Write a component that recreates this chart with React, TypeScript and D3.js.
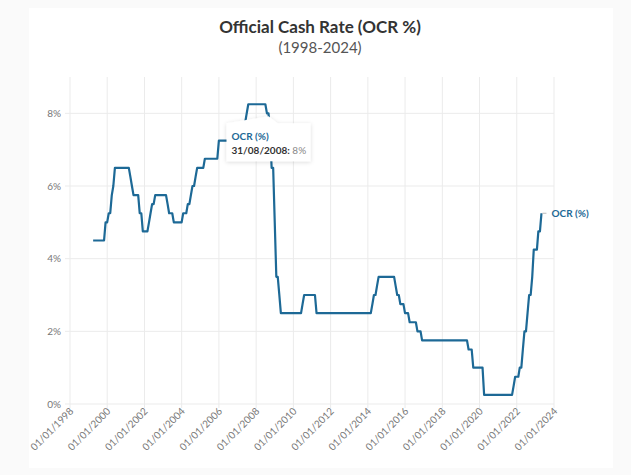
import React from "react";
import * as d3 from "d3";

// Month-end points where the OCR series turns a corner (monthly sampling)
const months: string[] = [
  "1999-03","1999-10","1999-11","1999-12","2000-01","2000-02","2000-03","2000-04","2000-05",
  "2001-02","2001-03","2001-04","2001-05","2001-08","2001-09","2001-10","2001-11",
  "2002-02","2002-03","2002-04","2002-05","2002-06","2002-07",
  "2003-02","2003-03","2003-04","2003-06","2003-07","2003-12",
  "2004-01","2004-03","2004-04","2004-05","2004-06","2004-07","2004-08","2004-09","2004-10",
  "2005-02","2005-03","2005-11","2005-12",
  "2007-02","2007-03","2007-04","2007-05","2007-06","2007-07",
  "2008-06","2008-07","2008-08","2008-09","2008-10","2008-11","2008-12",
  "2009-01","2009-02","2009-03","2009-04",
  "2010-05","2010-06","2010-07","2011-02","2011-03",
  "2014-02","2014-03","2014-04","2014-05","2014-06","2014-07",
  "2015-05","2015-06","2015-07","2015-08","2015-09","2015-11","2015-12",
  "2016-02","2016-03","2016-07","2016-08","2016-10","2016-11",
  "2019-04","2019-05","2019-07","2019-08","2020-02","2020-03",
  "2021-09","2021-10","2021-11","2022-01","2022-02","2022-03","2022-04","2022-05","2022-06",
  "2022-07","2022-08","2022-09","2022-10","2022-11","2023-01","2023-02","2023-03","2023-04"
];
const ocr: number[] = [
  4.5,4.5,5.0,5.0,5.25,5.25,5.75,6.0,6.5,
  6.5,6.25,6.0,5.75,5.75,5.25,5.25,4.75,
  4.75,5.0,5.25,5.5,5.5,5.75,
  5.75,5.5,5.25,5.25,5.0,5.0,
  5.25,5.25,5.5,5.5,5.75,6.0,6.0,6.25,6.5,
  6.5,6.75,6.75,7.25,
  7.25,7.5,7.75,7.75,8.0,8.25,
  8.25,8.0,8.0,7.5,6.5,6.5,5.0,
  3.5,3.5,3.0,2.5,
  2.5,2.75,3.0,3.0,2.5,
  2.5,2.75,3.0,3.0,3.25,3.5,
  3.5,3.25,3.0,3.0,2.75,2.75,2.5,
  2.5,2.25,2.25,2.0,2.0,1.75,
  1.75,1.5,1.5,1.0,1.0,0.25,
  0.25,0.5,0.75,0.75,1.0,1.0,1.5,2.0,2.0,
  2.5,3.0,3.0,3.5,4.25,4.25,4.75,4.75,5.25
];
const yTicks: number[] = [0, 2, 4, 6, 8];
const xTickYears: number[] = [1998, 2000, 2002, 2004, 2006, 2008, 2010, 2012, 2014, 2016, 2018, 2020, 2022, 2024];
const seriesName = "OCR (%)";
const title = "Official Cash Rate (OCR %)";
const subtitle = "(1998-2024)";
const tooltipMonth = "2008-08";

const W = 631, H = 475;
const FONT = "Lato, 'Noto Sans', sans-serif";
const BLUE = "#1d6996";

function monthEnd(s: string): Date {
  const [y, m] = s.split("-").map(Number);
  return new Date(y, m, 0);
}

export default function App() {
  const data = months.map((m, i) => ({ date: monthEnd(m), value: ocr[i] }));
  const x = d3.scaleTime().domain([new Date(1998, 0, 1), new Date(2024, 0, 1)]).range([70, 554]);
  const y = d3.scaleLinear().domain([0, 9]).range([404, 77]);
  const line = d3.line<{ date: Date; value: number }>().x(d => x(d.date)).y(d => y(d.value));
  const fmt = d3.timeFormat("%d/%m/%Y");
  const xTicks = xTickYears.map(yr => new Date(yr, 0, 1));
  const last = data[data.length - 1];
  const tip = data[months.indexOf(tooltipMonth)];
  const tx = x(tip.date), ty = y(tip.value);

  return (
    <div style={{ position: "fixed", left: 0, top: 0, width: W, height: H }}>
      <svg width={W} height={H} style={{ display: "block" }} fontFamily={FONT}>
        <defs>
          <filter id="sh" x="-20%" y="-30%" width="140%" height="170%">
            <feDropShadow dx="0" dy="1" stdDeviation="2" floodColor="#000" floodOpacity="0.15" />
          </filter>
        </defs>
        <rect width={W} height={H} fill="#fafafa" />
        <rect x={29} y={8} width={584} height={460} fill="#ffffff" />
        <text x={320} y={33} textAnchor="middle" fontSize={17} fontWeight={700} fill="#333">{title}</text>
        <text x={320} y={53} textAnchor="middle" fontSize={15} fill="#555">{subtitle}</text>
        {xTicks.map((d, i) => (
          <line key={"vx" + i} x1={x(d)} x2={x(d)} y1={77} y2={408} stroke="#ebebeb" strokeWidth={1} />
        ))}
        {yTicks.map((t, i) => (
          <g key={"hy" + i}>
            <line x1={65} x2={554} y1={y(t)} y2={y(t)} stroke="#ebebeb" strokeWidth={1} />
            <text x={61} y={y(t)} dy="0.35em" textAnchor="end" fontSize={10} fill="#777">{t + "%"}</text>
          </g>
        ))}
        {xTicks.map((d, i) => (
          <text key={"xl" + i} transform={`translate(${x(d) + 4},${412}) rotate(-45)`} textAnchor="end" fontSize={10} fill="#777">
            {fmt(d)}
          </text>
        ))}
        <path d={line(data) || ""} fill="none" stroke={BLUE} strokeWidth={2.2} strokeLinejoin="round" />
        <line x1={x(last.date) + 1} x2={x(last.date) + 5} y1={y(last.value)} y2={y(last.value)} stroke="#bbb" strokeWidth={1} />
        <text x={x(last.date) + 10} y={y(last.value)} dy="0.35em" fontSize={10} fontWeight={700} fill={BLUE}>{seriesName}</text>
        <g filter="url(#sh)">
          <path d={`M${tx - 86 + 44},${ty + 10} L${tx},${ty + 3} L${tx + 9},${ty + 10} L${tx + 42},${ty + 10} L${tx + 42},${ty + 48} L${tx - 42},${ty + 48} L${tx - 42},${ty + 10} Z`} fill="#fff" />
        </g>
        <text x={tx - 37} y={ty + 27} fontSize={10} fontWeight={700} fill={BLUE}>{seriesName}</text>
        <text x={tx - 37} y={ty + 41} fontSize={10} fill="#888">
          <tspan fontWeight={700} fill="#333">{fmt(tip.date) + ":"}</tspan>
          <tspan>{" " + tip.value + "%"}</tspan>
        </text>
      </svg>
    </div>
  );
}
